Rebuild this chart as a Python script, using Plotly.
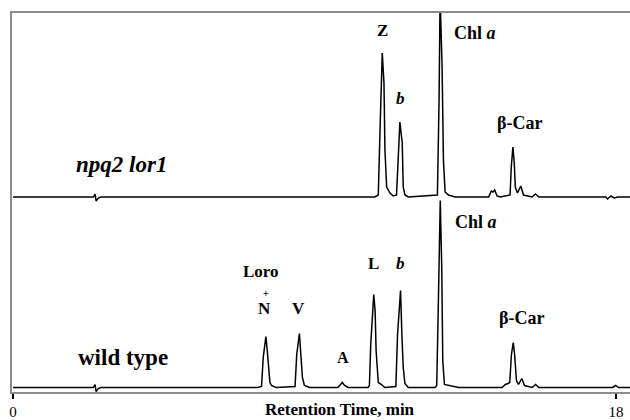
import plotly.graph_objects as go

# Retention time (min) and detector signal (a.u., above baseline)
npq2_time = [0.0, 2.40, 2.45, 2.48, 2.55, 2.62, 10.80, 10.905, 10.955, 11.024, 11.075, 11.104, 11.155,
             11.254, 11.352, 11.45, 11.55, 11.585, 11.62, 11.65, 11.70, 11.80, 12.67, 12.72, 12.75,
             12.81, 12.85, 12.90, 13.0, 13.2, 14.20, 14.28, 14.33, 14.38, 14.45, 14.55, 14.84, 14.875,
             14.925, 14.965, 14.995, 15.06, 15.16, 15.24, 15.50, 15.60, 15.70, 17.70, 17.75, 17.85,
             17.95, 18.05, 18.45]
npq2_signal = [0, 0, 3, -4, -1, 0, 0, 2, 64, 144, 114, 47, 10,
               4, 1, 2, 75, 60, 54, 10, 2, 0, 2, 97, 200,
               130, 37, 5, 2, 0, 0, 6, 5, 7, 1, 0, 2, 30,
               50, 34, 10, 4, 11, 2, 0, 3, 0, 0, -2, 1,
               -1, 0, 0]

wt_time = [0.0, 2.40, 2.45, 2.48, 2.55, 2.62, 7.30, 7.42, 7.47, 7.55, 7.59, 7.62, 7.67, 7.72,
           7.85, 8.42, 8.47, 8.55, 8.59, 8.64, 8.70, 8.85, 9.70, 9.76, 9.83, 9.90, 10.0, 10.60,
           10.64, 10.68, 10.74, 10.77, 10.81, 10.84, 10.905, 11.0, 11.10, 11.43, 11.48, 11.57,
           11.61, 11.65, 11.70, 11.73, 11.80, 12.60, 12.65, 12.70, 12.73, 12.755, 12.80, 12.83,
           12.88, 13.0, 13.3, 14.60, 14.70, 14.78, 14.83, 14.88, 14.935, 14.975, 15.03, 15.09,
           15.19, 15.27, 15.50, 15.60, 15.70, 17.90, 17.99, 18.08, 18.45]
wt_signal = [0, 0, 3, -4, -1, 0, 0, 1, 30, 51, 37, 24, 5, 2,
             0, 1, 33, 54, 37, 10, 2, 0, 0, 2, 5, 2, 0, 0,
             2, 43, 87, 93, 77, 37, 5, 3, 0, 1, 53, 97,
             53, 20, 4, 3, 0, 0, 2, 87, 137, 187, 120, 27,
             3, 2, 0, 0, 3, 4, 5, 33, 45, 33, 7, 3,
             9, 2, 0, 3, 0, 0, 2, 0, 0]

# vertical offsets of the two traces on the shared signal axis
wt_offset = 4.5
npq2_offset = 195

x_ticks = [0, 18]
x_title = "<b>Retention Time, min</b>"

serif = "Liberation Serif"

fig = go.Figure()
fig.add_trace(go.Scatter(x=npq2_time, y=[v + npq2_offset for v in npq2_signal], mode="lines",
                         line=dict(color="black", width=1.5), showlegend=False, hoverinfo="skip"))
fig.add_trace(go.Scatter(x=wt_time, y=[v + wt_offset for v in wt_signal], mode="lines",
                         line=dict(color="black", width=1.5), showlegend=False, hoverinfo="skip"))

labels = [
    # text, t, y, size
    ("<b>Z</b>", 11.04, 362, 17),
    ("<b><i>b</i></b>", 11.58, 294, 17),
    ("<b>Chl <i>a</i></b>", 13.79, 359, 18),
    ("<b>β-Car</b>", 15.13, 269, 18),
    ("<b><i>npq2 lor1</i></b>", 3.25, 228, 23),
    ("<b>wild type</b>", 3.28, 35, 23),
    ("<b>Loro</b>", 7.40, 121, 17),
    ("<b>+</b>", 7.55, 99, 10),
    ("<b>N</b>", 7.52, 84, 17),
    ("<b>V</b>", 8.51, 84, 17),
    ("<b>A</b>", 9.85, 35, 16),
    ("<b>L</b>", 10.75, 129, 17),
    ("<b><i>b</i></b>", 11.58, 129, 17),
    ("<b>Chl <i>a</i></b>", 13.82, 170, 18),
    ("<b>β-Car</b>", 15.19, 74, 18),
]
for text, t, y, size in labels:
    fig.add_annotation(x=t, y=y, text=text, showarrow=False,
                       font=dict(family=serif, size=size, color="black"),
                       xanchor="center", yanchor="middle")

fig.add_annotation(x=9.75, y=-0.045, xref="x", yref="paper", text=x_title, showarrow=False,
                   font=dict(family=serif, size=17, color="black"), xanchor="center",
                   yanchor="middle", borderpad=0)

fig.update_layout(
    width=630, height=420,
    margin=dict(l=12, r=0, t=13, b=28, autoexpand=False),
    plot_bgcolor="white", paper_bgcolor="white",
    xaxis=dict(range=[-0.03, 18.42], showgrid=False, zeroline=False, automargin=False,
               showline=True, linecolor="#8c8c8c", linewidth=2, mirror=True,
               tickvals=x_ticks, ticktext=[str(v) for v in x_ticks],
               ticks="outside", ticklen=5, tickwidth=2, tickcolor="black",
               tickfont=dict(family=serif, size=15, color="black")),
    yaxis=dict(range=[0, 379], showgrid=False, zeroline=False, automargin=False,
               showline=True, linecolor="#8c8c8c", linewidth=2,
               showticklabels=False, ticks=""),
)

fig.write_html("out.html", config={"displayModeBar": False},
               post_script="document.body.style.margin='0';document.body.style.overflow='hidden';")
